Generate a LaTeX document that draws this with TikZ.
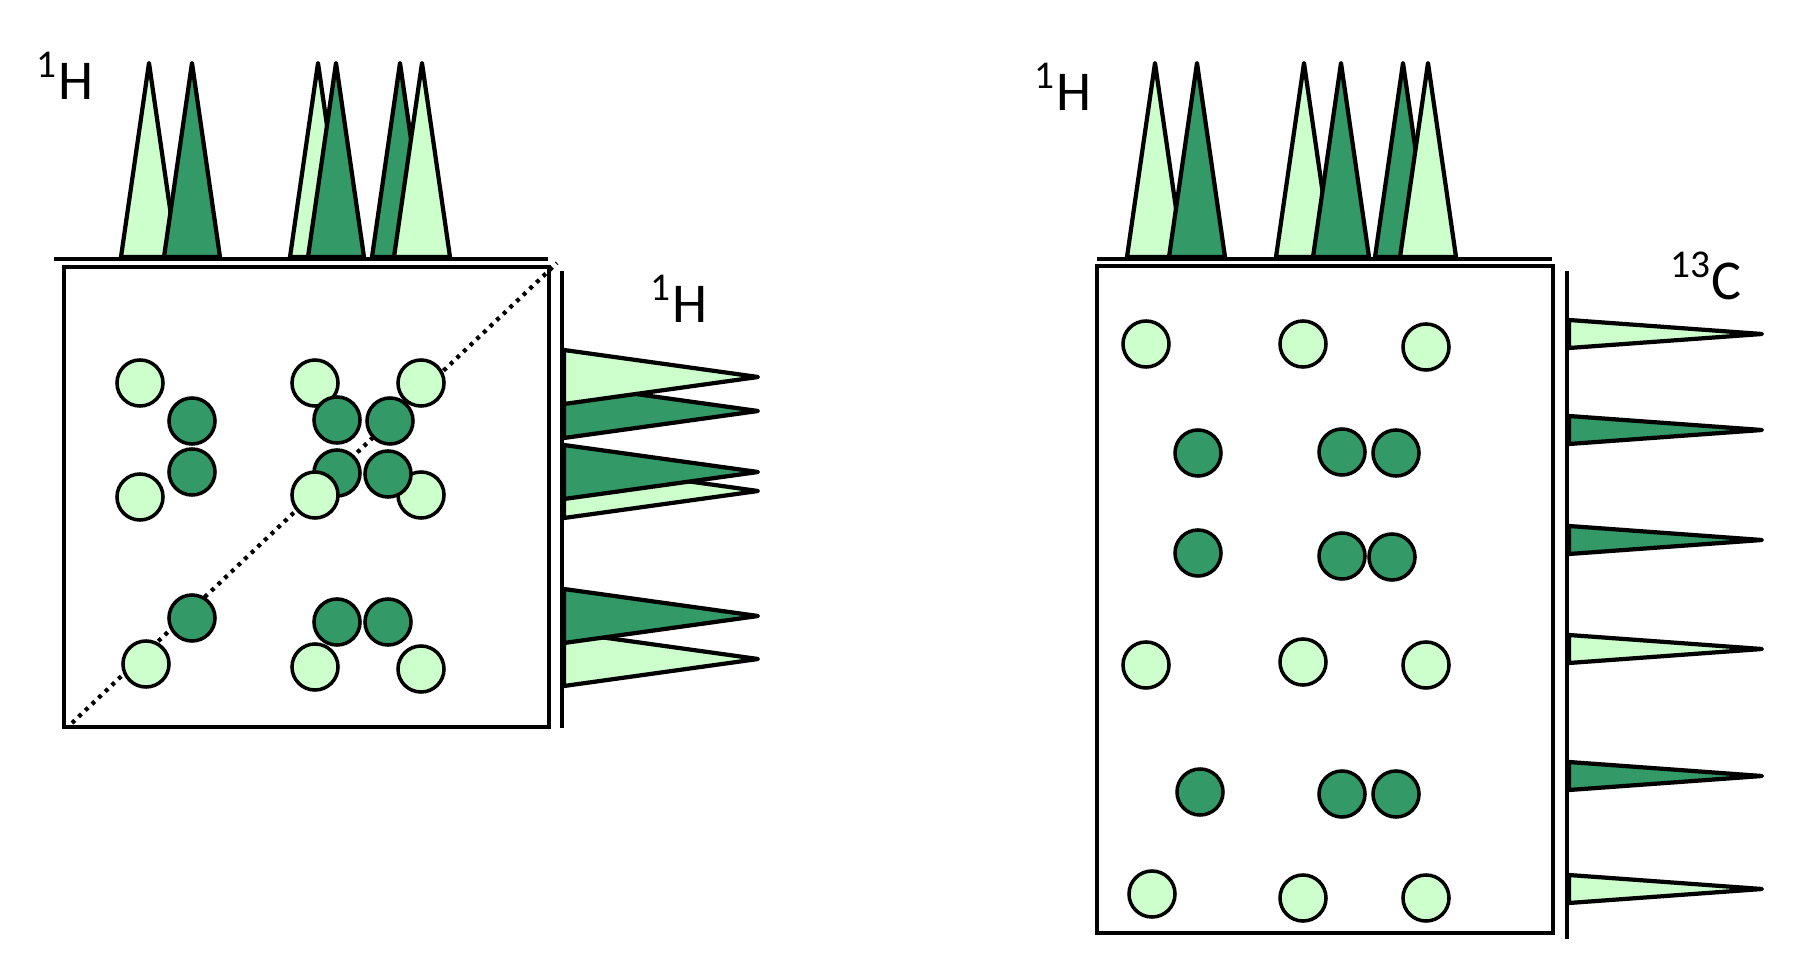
\documentclass[tikz,border=0pt]{standalone}
\usepackage{fontspec}
\setmainfont{Carlito}
\begin{document}
\begin{tikzpicture}[x=0.01cm, y=-0.01cm,
  peak/.style={draw=black, line width=1.2pt, line join=round},
  spot/.style={circle, draw=black, line width=1pt, minimum size=0.46cm, inner sep=0pt},
  axisline/.style={line width=1.3pt},
  frame/.style={line width=1.1pt},
  nucleus/.style={font=\fontsize{16pt}{18pt}\selectfont, inner sep=0pt}]
\definecolor{lightg}{HTML}{CCFFCC}
\definecolor{darkg}{HTML}{339966}
\useasboundingbox (0,0) rectangle (1800,967);
% COSY
\draw[axisline] (54,259) -- (548,259);
\filldraw[peak, fill=lightg] (121,257) -- (149,63) -- (177,257) -- cycle;
\filldraw[peak, fill=darkg] (164,257) -- (192,63) -- (220,257) -- cycle;
\filldraw[peak, fill=lightg] (290,257) -- (318,63) -- (346,257) -- cycle;
\filldraw[peak, fill=darkg] (308,257) -- (336,63) -- (364,257) -- cycle;
\filldraw[peak, fill=darkg] (372,257) -- (400,63) -- (428,257) -- cycle;
\filldraw[peak, fill=lightg] (394,257) -- (422,63) -- (450,257) -- cycle;
\draw[axisline] (562,271) -- (562,728);
\filldraw[peak, fill=darkg] (564,384) -- (758,411) -- (564,438) -- cycle;
\filldraw[peak, fill=lightg] (564,350) -- (758,377) -- (564,404) -- cycle;
\filldraw[peak, fill=lightg] (564,464) -- (758,491) -- (564,518) -- cycle;
\filldraw[peak, fill=darkg] (564,445) -- (758,472) -- (564,499) -- cycle;
\filldraw[peak, fill=lightg] (564,632) -- (758,659) -- (564,686) -- cycle;
\filldraw[peak, fill=darkg] (564,589) -- (758,616) -- (564,643) -- cycle;
\draw[frame] (64,267) rectangle (549,727);
\draw[line width=1.2pt, dash pattern=on 1.1pt off 1.5pt] (72,723) -- (557,263);
\node[spot, fill=lightg] (a1) at (140,383) {};
\node[spot, fill=lightg] (a2) at (140,497) {};
\node[spot, fill=lightg] (a3) at (315,383) {};
\node[spot, fill=lightg] (a4) at (421,383) {};
\node[spot, fill=lightg] (a5) at (421,495) {};
\node[spot, fill=darkg] (a6) at (192,421) {};
\node[spot, fill=darkg] (a7) at (192,472) {};
\node[spot, fill=darkg] (a8) at (337,420) {};
\node[spot, fill=darkg] (a9) at (390,421) {};
\node[spot, fill=darkg] (a10) at (337,473) {};
\node[spot, fill=darkg] (a11) at (388,474) {};
\node[spot, fill=lightg] (a12) at (315,495) {};
\node[spot, fill=darkg] (a13) at (192,618) {};
\node[spot, fill=darkg] (a14) at (337,622) {};
\node[spot, fill=darkg] (a15) at (388,622) {};
\node[spot, fill=lightg] (a16) at (146,664) {};
\node[spot, fill=lightg] (a17) at (315,667) {};
\node[spot, fill=lightg] (a18) at (421,669) {};
\node[nucleus] (hTopA) at (65,76) {\textsuperscript{1}H};
\node[nucleus] (hSideA) at (679,299) {\textsuperscript{1}H};
% HSQC
\draw[axisline] (1097,259) -- (1552,259);
\filldraw[peak, fill=lightg] (1127,257) -- (1155,63) -- (1183,257) -- cycle;
\filldraw[peak, fill=darkg] (1169,257) -- (1197,63) -- (1225,257) -- cycle;
\filldraw[peak, fill=lightg] (1276,257) -- (1304,63) -- (1332,257) -- cycle;
\filldraw[peak, fill=darkg] (1313,257) -- (1341,63) -- (1369,257) -- cycle;
\filldraw[peak, fill=darkg] (1375,257) -- (1403,63) -- (1431,257) -- cycle;
\filldraw[peak, fill=lightg] (1400,257) -- (1428,63) -- (1456,257) -- cycle;
\draw[axisline] (1567,271) -- (1567,939);
\filldraw[peak, fill=lightg] (1569,320) -- (1762,334) -- (1569,348) -- cycle;
\filldraw[peak, fill=darkg] (1569,416) -- (1762,430) -- (1569,444) -- cycle;
\filldraw[peak, fill=darkg] (1569,526) -- (1762,540) -- (1569,554) -- cycle;
\filldraw[peak, fill=lightg] (1569,635) -- (1762,649) -- (1569,663) -- cycle;
\filldraw[peak, fill=darkg] (1569,762) -- (1762,776) -- (1569,790) -- cycle;
\filldraw[peak, fill=lightg] (1569,875) -- (1762,889) -- (1569,903) -- cycle;
\draw[frame] (1097,266) rectangle (1553,933);
\node[spot, fill=lightg] (b1) at (1146,344) {};
\node[spot, fill=lightg] (b2) at (1303,344) {};
\node[spot, fill=lightg] (b3) at (1426,347) {};
\node[spot, fill=darkg] (b4) at (1198,453) {};
\node[spot, fill=darkg] (b5) at (1342,452) {};
\node[spot, fill=darkg] (b6) at (1396,453) {};
\node[spot, fill=darkg] (b7) at (1198,553) {};
\node[spot, fill=darkg] (b8) at (1342,556) {};
\node[spot, fill=darkg] (b9) at (1392,557) {};
\node[spot, fill=lightg] (b10) at (1146,665) {};
\node[spot, fill=lightg] (b11) at (1303,662) {};
\node[spot, fill=lightg] (b12) at (1426,665) {};
\node[spot, fill=darkg] (b13) at (1200,792) {};
\node[spot, fill=darkg] (b14) at (1342,794) {};
\node[spot, fill=darkg] (b15) at (1396,794) {};
\node[spot, fill=lightg] (b16) at (1152,894) {};
\node[spot, fill=lightg] (b17) at (1303,898) {};
\node[spot, fill=lightg] (b18) at (1426,898) {};
\node[nucleus] (hTopB) at (1063,87) {\textsuperscript{1}H};
\node[nucleus] (cSideB) at (1706,276) {\textsuperscript{13}C};
\end{tikzpicture}
\end{document}
